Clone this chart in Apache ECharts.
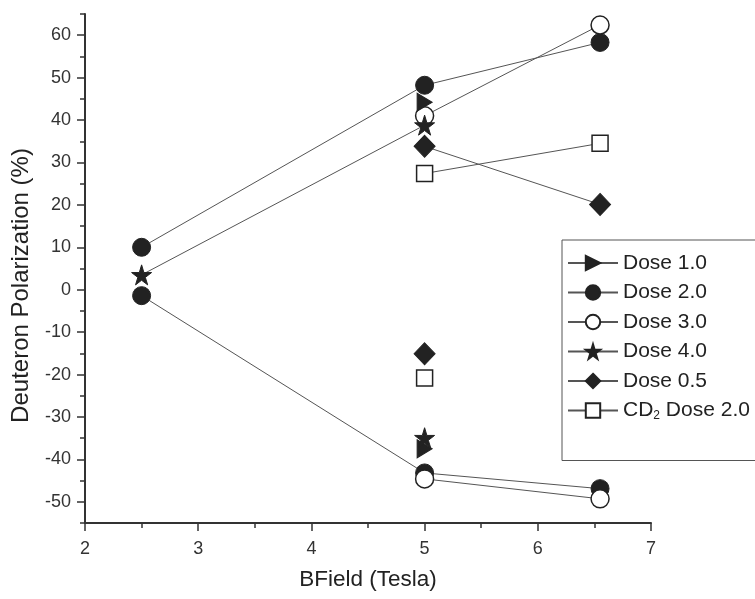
<!DOCTYPE html>
<html>
<head>
<meta charset="utf-8">
<script src="https://cdn.jsdelivr.net/npm/echarts@6/dist/echarts.min.js"></script>
<style>
  html, body { margin: 0; padding: 0; background: #fff; }
  #main { width: 755px; height: 599px; }
</style>
</head>
<body>
<div id="main"></div>
<script>
// BField positions (Tesla)
var bField = [2.5, 5.0, 6.55];

// polarization (%), upper and lower branch, null = no point
var dose10Up = [null, 44.2, null];
var dose10Low = [null, -37.5, null];
var dose20Up = [10, 48.2, 58.3];
var dose20Low = [-1.4, -43.2, -46.9];
var dose30Up = [null, 41, 62.4];
var dose30Low = [null, -44.6, -49.3];
var dose40Up = [3.5, 38.8, null];
var dose40Low = [null, -34.9, null];
var dose05Up = [null, 33.8, 20.1];
var dose05Low = [null, -15.1, null];
var cd2Up = [null, 27.4, 34.5];
var cd2Low = [null, -20.8, null];

var yMajorTicks = [-50, -40, -30, -20, -10, 0, 10, 20, 30, 40, 50, 60];

var ink = '#222';
var axisColor = '#333';
var lineColor = '#555';
var fontFam = 'Liberation Sans, Arial, sans-serif';

var starPath = 'path://M50,0 L61,35 L98,35 L68,57 L79,91 L50,70 L21,91 L32,57 L2,35 L39,35 Z';
var triRight = 'path://M0,0 L10,6 L0,12 Z';

// upper branch, a break, then the lower branch
function branches(up, low) {
    var d = [];
    up.forEach(function (v, i) { d.push([bField[i], v == null ? '-' : v]); });
    d.push([bField[0], '-']);
    low.forEach(function (v, i) { d.push([bField[i], v == null ? '-' : v]); });
    return d;
}

function mkSeries(name, up, low, symbol, size, filled) {
    return {
        name: name,
        type: 'line',
        data: branches(up, low),
        symbol: symbol,
        symbolSize: size,
        showSymbol: true,
        connectNulls: false,
        lineStyle: { color: lineColor, width: 1 },
        itemStyle: filled
            ? { color: ink, borderColor: ink, borderWidth: 1 }
            : { color: '#fff', borderColor: ink, borderWidth: 1.5 },
        emphasis: { disabled: true }
    };
}

var myChart = echarts.init(document.getElementById('main'));
var option = {
    animation: false,
    backgroundColor: '#fff',
    grid: { left: 85, right: 104, top: 14, bottom: 76, outerBoundsMode: 'none' },
    legend: {
        orient: 'vertical',
        left: 562,
        top: 240,
        padding: [12, 6, 39, 5],
        itemWidth: 50,
        itemHeight: 18,
        itemGap: 7.5,
        borderColor: '#555',
        borderWidth: 1,
        data: ['Dose 1.0', 'Dose 2.0', 'Dose 3.0', 'Dose 4.0', 'Dose 0.5', 'CD2 Dose 2.0'],
        formatter: function (n) {
            return n === 'CD2 Dose 2.0' ? 'CD{sub|2} Dose 2.0' : n;
        },
        textStyle: {
            fontFamily: fontFam,
            fontSize: 21,
            color: ink,
            lineHeight: 22,
            rich: {
                sub: { fontSize: 12, fontFamily: fontFam, color: ink, verticalAlign: 'bottom', padding: [10, 0, 0, 0] }
            }
        }
    },
    xAxis: {
        type: 'value',
        min: 2,
        max: 7,
        interval: 1,
        name: 'BField (Tesla)',
        nameLocation: 'middle',
        nameGap: 45,
        nameTextStyle: { fontFamily: fontFam, fontSize: 22.5, color: ink },
        axisLine: { show: true, onZero: false, lineStyle: { color: axisColor, width: 2 } },
        axisTick: { length: 8, lineStyle: { color: axisColor, width: 1.5 } },
        minorTick: { show: true, splitNumber: 2, length: 5, lineStyle: { color: axisColor, width: 1.5 } },
        axisLabel: { fontFamily: fontFam, fontSize: 18, color: axisColor, margin: 17 },
        splitLine: { show: false }
    },
    yAxis: [
        {
            type: 'value',
            min: -55,
            max: 65,
            interval: 5,
            name: 'Deuteron Polarization (%)',
            nameLocation: 'middle',
            nameGap: 52,
            nameTextStyle: { fontFamily: fontFam, fontSize: 24, color: ink, padding: [0, 34, 0, 0] },
            axisLine: { show: true, lineStyle: { color: axisColor, width: 2 } },
            axisTick: { length: 5, lineStyle: { color: axisColor, width: 1.5 } },
            axisLabel: {
                fontFamily: fontFam, fontSize: 18, color: axisColor, margin: 14,
                formatter: function (v) { return v % 10 === 0 ? v : ''; }
            },
            splitLine: { show: false }
        },
        {
            type: 'value',
            min: -55,
            max: 65,
            interval: 5,
            position: 'left',
            axisLine: { show: false },
            axisTick: { show: true, length: 8, customValues: yMajorTicks, lineStyle: { color: axisColor, width: 1.5 } },
            axisLabel: { show: false },
            splitLine: { show: false }
        }
    ],
    series: [
        mkSeries('Dose 2.0', dose20Up, dose20Low, 'circle', 18, true),
        mkSeries('Dose 3.0', dose30Up, dose30Low, 'circle', 18, false),
        mkSeries('Dose 1.0', dose10Up, dose10Low, triRight, [15, 18], true),
        mkSeries('Dose 4.0', dose40Up, dose40Low, starPath, 20, true),
        mkSeries('Dose 0.5', dose05Up, dose05Low, 'diamond', [21, 22], true),
        mkSeries('CD2 Dose 2.0', cd2Up, cd2Low, 'rect', 16, false)
    ]
};
myChart.setOption(option);
</script>
</body>
</html>
